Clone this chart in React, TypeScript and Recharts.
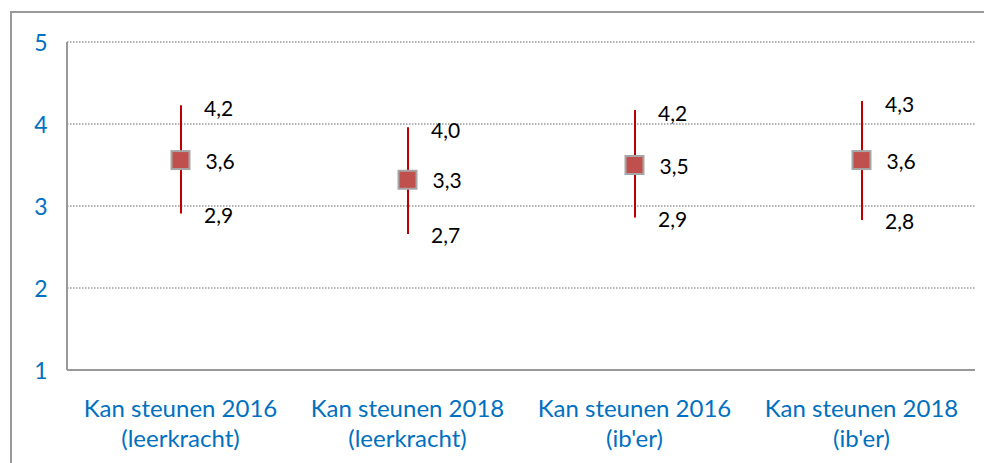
import {
  Bar,
  CartesianGrid,
  ComposedChart,
  LabelList,
  Scatter,
  XAxis,
  YAxis,
} from "recharts";

// categories (two-line labels)
const groups = ["Kan steunen 2016", "Kan steunen 2018", "Kan steunen 2016", "Kan steunen 2018"];
const roles = ["(leerkracht)", "(leerkracht)", "(ib'er)", "(ib'er)"];

// mean and interval ends
const means = [3.56, 3.32, 3.5, 3.56];
const highs = [4.23, 3.96, 4.17, 4.28];
const lows = [2.91, 2.66, 2.86, 2.83];

const yTicks = [1, 2, 3, 4, 5];

const data = groups.map((g, i) => ({
  name: `${g}|${roles[i]}`,
  mean: means[i],
  high: highs[i],
  low: lows[i],
  range: [lows[i], highs[i]],
}));

const FONT = "Lato, 'Noto Sans', sans-serif";
const BLUE = "#0070C0";
const fmt = (v: number) => v.toFixed(1).replace(".", ",");

const XTick = (props: any) => {
  const { x, y, payload } = props;
  const [a, b] = String(payload.value).split("|");
  return (
    <text x={x} y={y} textAnchor="middle" fill={BLUE} fontSize={24} fontFamily={FONT}>
      <tspan x={x} dy={39}>{a}</tspan>
      <tspan x={x} dy={30}>{b}</tspan>
    </text>
  );
};

const YTick = (props: any) => {
  const { x, y, payload } = props;
  return (
    <text x={x - 18} y={y} textAnchor="middle" dominantBaseline="central" fill={BLUE} fontSize={23} fontFamily={FONT}>
      {payload.value}
    </text>
  );
};

const RangeLabels = (props: any) => {
  const { x, y, width, height, index } = props;
  const cx = x + width / 2;
  return (
    <g fontFamily={FONT} fontSize={21} fill="#000">
      <text x={cx + 23} y={y + 2} dominantBaseline="central">{fmt(highs[index])}</text>
      <text x={cx + 23} y={y + height + 1} dominantBaseline="central">{fmt(lows[index])}</text>
    </g>
  );
};

const MeanLabel = (props: any) => {
  const { x, y, width, height, index } = props;
  const cx = x + (width || 0) / 2;
  const cy = y + (height || 0) / 2;
  return (
    <text x={cx + 25} y={cy} dominantBaseline="central" fontFamily={FONT} fontSize={21} fill="#000">
      {fmt(means[index])}
    </text>
  );
};

const Square = (props: any) => {
  const { cx, cy } = props;
  return <rect x={cx - 9} y={cy - 9} width={18} height={18} fill="#C0504D" stroke="#A6A6A6" strokeWidth={2} />;
};

export default function App() {
  return (
    <div
      style={{
        marginTop: 3,
        marginLeft: 2,
        borderTop: "2px solid #999",
        borderLeft: "2px solid #999",
        width: 980,
        height: 450,
        background: "#fff",
      }}
    >
      <ComposedChart width={980} height={450} data={data} margin={{ top: 29, right: 17, left: 0, bottom: 0 }}>
        <CartesianGrid vertical={false} stroke="#999" strokeDasharray="1.5 1.5" strokeWidth={1.5} />
        <XAxis
          dataKey="name"
          height={93}
          tickLine={false}
          axisLine={{ stroke: "#999", strokeWidth: 2 }}
          tick={<XTick />}
          interval={0}
        />
        <YAxis
          domain={[1, 5]}
          ticks={yTicks}
          width={55}
          tickLine={false}
          axisLine={{ stroke: "#999", strokeWidth: 2 }}
          tick={<YTick />}
        />
        <Bar dataKey="range" barSize={2} fill="#C00000" isAnimationActive={false}>
          <LabelList content={<RangeLabels />} />
        </Bar>
        <Scatter dataKey="mean" shape={<Square />} isAnimationActive={false}>
          <LabelList content={<MeanLabel />} />
        </Scatter>
      </ComposedChart>
    </div>
  );
}
